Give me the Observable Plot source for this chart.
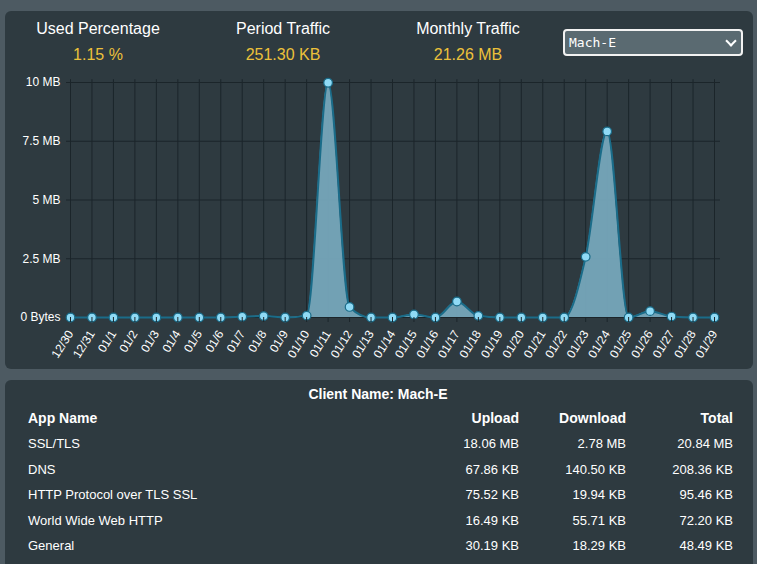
<!DOCTYPE html>
<html>
<head>
<meta charset="utf-8">
<script src="https://cdn.jsdelivr.net/npm/d3@7"></script>
<script src="https://cdn.jsdelivr.net/npm/@observablehq/plot@0.6"></script>
<style>
  html, body { margin: 0; padding: 0; }
  body { width: 757px; height: 564px; background: #4d5a62; position: relative; overflow: hidden;
         font-family: "Liberation Sans", Arial, sans-serif; color: #fff; }
  .panel { position: absolute; left: 5px; width: 748px; background: #2e3a40; border-radius: 6px; }
  .abs { position: absolute; white-space: nowrap; }
  .hdr { font-size: 16px; text-align: center; width: 200px; }
  .val { font-size: 16px; text-align: center; width: 200px; color: #ecc13a; }
  .sel { left: 563px; top: 29px; width: 172px; height: 23px; border: 2px solid #f2f2f2; border-radius: 4px;
         background: #5a6a71; font-family: "DejaVu Sans Mono", "Liberation Mono", monospace; font-size: 13px;
         line-height: 23px; padding-left: 4px; box-sizing: content-box; }
  .chev { position: absolute; right: 6px; top: 6px; width: 6px; height: 6px; border-right: 2px solid #fff;
          border-bottom: 2px solid #fff; transform: rotate(45deg); }
  #chart { position: absolute; left: 0; top: 64px; }
  .cell { font-size: 13px; }
  .bold { font-weight: bold; font-size: 14px; }
</style>
</head>
<body>
<div class="panel" style="top:11px;height:358px;"></div>
<div class="panel" style="top:380px;height:200px;"></div>
<div id="header"></div>
<div class="abs sel">Mach-E<div class="chev"></div></div>
<div id="chart"></div>
<div id="table"></div>
<script>
// ---- Data ----
const statLabels = ["Used Percentage", "Period Traffic", "Monthly Traffic"];
const statValues = ["1.15 %", "251.30 KB", "21.26 MB"];

const days = ["12/30","12/31","01/1","01/2","01/3","01/4","01/5","01/6","01/7","01/8","01/9","01/10",
  "01/11","01/12","01/13","01/14","01/15","01/16","01/17","01/18","01/19","01/20","01/21","01/22",
  "01/23","01/24","01/25","01/26","01/27","01/28","01/29"];
const trafficMB = [0,0,0,0,0,0,0,0,0.03,0.06,0,0.08,
  9.99,0.45,0,0,0.13,0,0.68,0.07,0,0,0,0,
  2.58,7.92,0,0.27,0.04,0,0];
const yTicks = [0, 2.5, 5, 7.5, 10];

const clientName = "Mach-E";
const tableHeaders = ["App Name", "Upload", "Download", "Total"];
const apps = ["SSL/TLS", "DNS", "HTTP Protocol over TLS SSL", "World Wide Web HTTP", "General"];
const uploads = ["18.06 MB", "67.86 KB", "75.52 KB", "16.49 KB", "30.19 KB"];
const downloads = ["2.78 MB", "140.50 KB", "19.94 KB", "55.71 KB", "18.29 KB"];
const totals = ["20.84 MB", "208.36 KB", "95.46 KB", "72.20 KB", "48.49 KB"];

// ---- Header ----
const header = document.getElementById("header");
const centers = [98, 283, 468];
statLabels.forEach((t, i) => {
  const a = document.createElement("div");
  a.className = "abs hdr"; a.textContent = t;
  a.style.left = (centers[i] - 100) + "px"; a.style.top = "20px";
  header.appendChild(a);
  const b = document.createElement("div");
  b.className = "abs val"; b.textContent = statValues[i];
  b.style.left = (centers[i] - 100) + "px"; b.style.top = "46px";
  header.appendChild(b);
});

// ---- Chart ----
const idx = days.map((d, i) => i);
const data = days.map((d, i) => ({i, day: d, v: trafficMB[i]}));
const gridColor = "#1b252a";
const chart = Plot.plot({
  width: 757, height: 300,
  marginLeft: 66, marginRight: 37, marginTop: 18, marginBottom: 47,
  style: {background: "transparent", color: "#fff", fontSize: "12px", fontFamily: "Liberation Sans, Arial, sans-serif"},
  x: {type: "linear", domain: [0, days.length - 1], insetLeft: 4, insetRight: 6, label: null},
  y: {domain: [0, 10], label: null},
  marks: [
    Plot.gridX(idx, {stroke: gridColor, strokeOpacity: 1, y1: 10.12, y2: 0}),
    Plot.gridY(yTicks, {stroke: gridColor, strokeOpacity: 1}),
    Plot.areaY(data, {x: "i", y: "v", curve: "monotone-x", fill: "#76a6ba", fillOpacity: 0.95}),
    Plot.lineY(data, {x: "i", y: "v", curve: "monotone-x", stroke: "#1a6c89", strokeWidth: 2}),
    Plot.dot(data, {x: "i", y: "v", r: 4.3, fill: "#8fdaf5", stroke: "#1a6c89", strokeWidth: 1.2}),
    Plot.axisY(yTicks, {tickSize: 0, tickPadding: 6, fill: "#fff", fontSize: 12,
      tickFormat: d => d === 0 ? "0 Bytes" : `${d} MB`, label: null}),
    Plot.axisX(idx, {tickSize: 5, stroke: gridColor, fill: "#fff", fontSize: 12, tickRotate: -58, tickPadding: 9,
      tickFormat: i => days[i], label: null})
  ]
});
document.getElementById("chart").appendChild(chart);

// ---- Table ----
const table = document.getElementById("table");
function addText(txt, x, y, cls, align) {
  const el = document.createElement("div");
  el.className = "abs " + cls;
  el.textContent = txt;
  el.style.top = y + "px";
  if (align === "right") { el.style.right = (757 - x) + "px"; }
  else if (align === "center") { el.style.left = (x - 200) + "px"; el.style.width = "400px"; el.style.textAlign = "center"; }
  else { el.style.left = x + "px"; }
  table.appendChild(el);
}
addText("Client Name: " + clientName, 378, 386, "bold", "center");
const colX = [28, 519, 626, 733];
tableHeaders.forEach((h, i) => addText(h, colX[i], 410, "bold", i === 0 ? "left" : "right"));
apps.forEach((a, r) => {
  const y = 436 + r * 25.6;
  addText(a, colX[0], y, "cell", "left");
  addText(uploads[r], colX[1], y, "cell", "right");
  addText(downloads[r], colX[2], y, "cell", "right");
  addText(totals[r], colX[3], y, "cell", "right");
});
</script>
</body>
</html>
